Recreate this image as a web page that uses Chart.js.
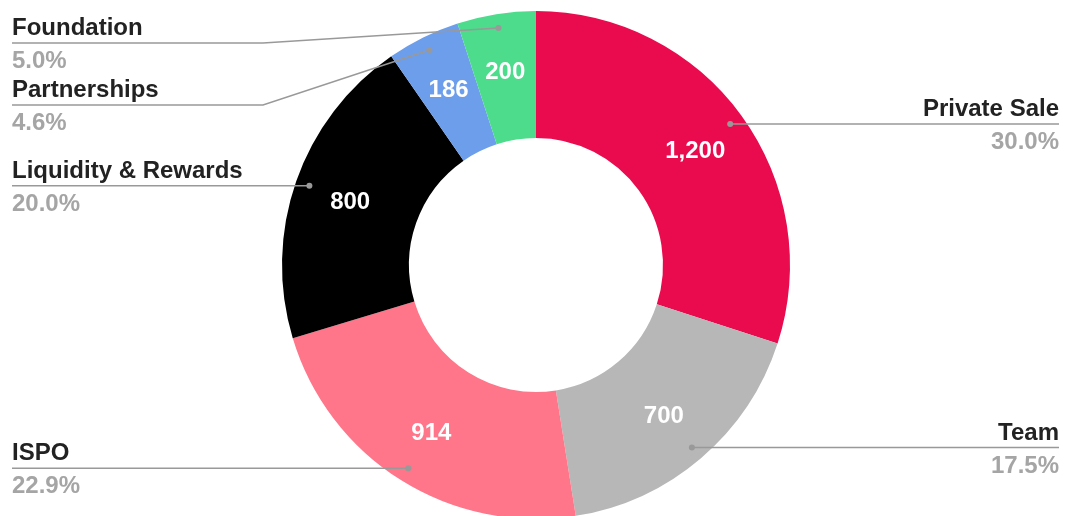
<!DOCTYPE html>
<html>
<head>
<meta charset="utf-8">
<script src="https://cdn.jsdelivr.net/npm/chart.js@4.4.0/dist/chart.umd.min.js"></script>
<style>
  html, body { margin: 0; padding: 0; background: #fff; overflow: hidden; }
  .chart-wrap { position: relative; width: 1072px; height: 522px; }
</style>
</head>
<body>
<div class="chart-wrap"><canvas id="allocationChart"></canvas></div>
<script>
// data
const categories = ["Private Sale", "Team", "ISPO", "Liquidity & Rewards", "Partnerships", "Foundation"];
const tokenAmounts = [1200, 700, 914, 800, 186, 200];
const valueLabels = ["1,200", "700", "914", "800", "186", "200"];
const percentLabels = ["30.0%", "17.5%", "22.9%", "20.0%", "4.6%", "5.0%"];
const sliceColors = ["#ea0b4f", "#b7b7b7", "#ff7589", "#000000", "#6d9eeb", "#4cdc8b"];

const FONT = "'Liberation Sans', Arial, sans-serif";

// draws white values in the ring and the outside labels with leader lines
const outsideLabels = {
  id: "outsideLabels",
  afterDatasetsDraw(chart) {
    const ctx = chart.ctx;
    const meta = chart.getDatasetMeta(0);
    const W = chart.width;
    const leftX = 12;
    const rightX = W - 13;
    const bendGap = 263;

    const items = meta.data.map((arc, i) => {
      const p = arc.getProps(["startAngle", "endAngle", "outerRadius", "x", "y"], true);
      const mid = (p.startAngle + p.endAngle) / 2;
      const r = p.outerRadius * 0.945;
      const rv = p.outerRadius * 0.775;
      return {
        i,
        dotX: p.x + Math.cos(mid) * r,
        dotY: p.y + Math.sin(mid) * r,
        valX: p.x + Math.cos(mid) * rv,
        valY: p.y + Math.sin(mid) * rv,
        left: Math.cos(mid) < 0,
      };
    });

    // stack the labels on each side so they do not overlap
    ["left", "right"].forEach((side) => {
      const group = items
        .filter((it) => (side === "left") === it.left)
        .sort((a, b) => a.dotY - b.dotY);
      let prev = -Infinity;
      group.forEach((it) => {
        it.lineY = Math.max(it.dotY, prev + 62, 43);
        prev = it.lineY;
      });
    });

    ctx.save();
    items.forEach((it) => {
      // value inside the slice
      ctx.font = `bold 24px ${FONT}`;
      ctx.fillStyle = "#ffffff";
      ctx.textAlign = "center";
      ctx.textBaseline = "alphabetic";
      ctx.fillText(valueLabels[it.i], it.valX, it.valY + 8.5);

      // leader line
      const endX = it.left ? leftX : rightX;
      const bendX = it.left ? bendGap : W - bendGap;
      ctx.strokeStyle = "#999999";
      ctx.lineWidth = 1.5;
      ctx.beginPath();
      ctx.moveTo(it.dotX, it.dotY);
      if (Math.abs(it.lineY - it.dotY) > 1) {
        ctx.lineTo(bendX, it.lineY);
      }
      ctx.lineTo(endX, it.lineY);
      ctx.stroke();

      ctx.fillStyle = "#999999";
      ctx.beginPath();
      ctx.arc(it.dotX, it.dotY, 3, 0, Math.PI * 2);
      ctx.fill();

      // category name and percent
      ctx.textAlign = it.left ? "left" : "right";
      ctx.font = `bold 24px ${FONT}`;
      ctx.fillStyle = "#222222";
      ctx.fillText(categories[it.i], endX, it.lineY - 8);
      ctx.fillStyle = "#a5a5a5";
      ctx.fillText(percentLabels[it.i], endX, it.lineY + 25);
    });
    ctx.restore();
  },
};

new Chart(document.getElementById("allocationChart"), {
  type: "doughnut",
  data: {
    labels: categories,
    datasets: [
      {
        data: tokenAmounts,
        backgroundColor: sliceColors,
        borderWidth: 0,
      },
    ],
  },
  options: {
    responsive: true,
    maintainAspectRatio: false,
    animation: false,
    cutout: "50%",
    layout: { padding: { top: 11, bottom: 3 } },
    plugins: {
      legend: { display: false },
      tooltip: { enabled: false },
    },
  },
  plugins: [outsideLabels],
});
</script>
</body>
</html>
